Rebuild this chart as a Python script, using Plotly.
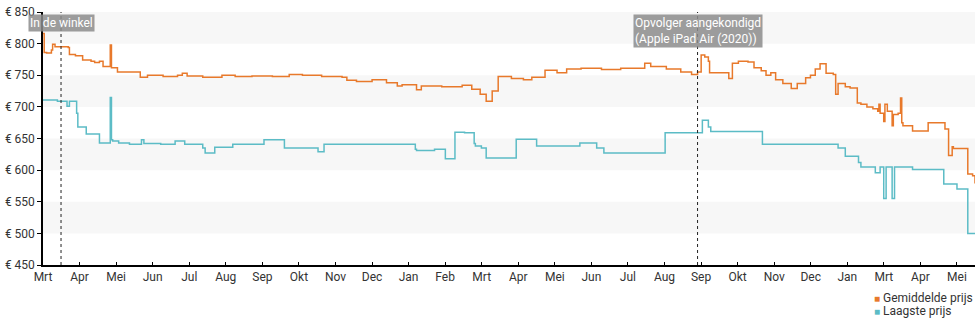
import pandas as pd
import plotly.graph_objects as go

START = pd.Timestamp("2019-03-01")

# Gemiddelde prijs: dagen sinds 1 maart 2019 en prijs in euro
gem_dag = [0, 1, 3, 7, 8, 10, 21, 22, 27, 33, 40, 43, 47, 50, 56, 57, 62, 81, 87,
           100, 112, 116, 120, 133, 149, 160, 174, 191, 205, 216, 232, 249, 253,
           261, 274, 286, 295, 299, 311, 315, 332, 349, 357, 364, 369, 374, 379,
           390, 400, 407, 418, 428, 436, 448, 465, 481, 501, 506, 519, 531, 540,
           545, 548, 551, 554, 555, 569, 571, 574, 579, 587, 592, 598, 602, 606,
           610, 616, 623, 628, 635, 639, 643, 647, 652, 658, 660, 662, 668, 672,
           678, 681, 686, 691, 695, 696, 697, 700, 701, 703, 706, 707, 708, 712,
           714, 715, 716, 724, 737, 751, 754, 757, 758, 770, 774, 776]
gem_prijs = [816, 786, 785, 790, 799, 795, 794, 783, 781, 774, 772, 770, 772, 764,
             798, 762, 755, 747, 750, 748, 750, 753, 749, 747, 750, 748, 749, 748,
             751, 750, 748, 747, 742, 740, 743, 738, 733, 735, 727, 733, 732, 734,
             728, 720, 709, 725, 748, 745, 743, 747, 758, 754, 760, 761, 759, 761,
             769, 764, 760, 755, 751, 755, 782, 779, 772, 754, 754, 745, 769, 772,
             771, 762, 757, 750, 754, 743, 737, 729, 737, 746, 750, 760, 768, 753,
             751, 720, 737, 732, 730, 706, 704, 700, 697, 693, 704, 690, 677, 704,
             693, 693, 670, 688, 690, 714, 675, 670, 662, 675, 665, 623, 637, 634,
             594, 591, 579]

# Laagste prijs
laag_dag = [0, 12, 20, 22, 28, 29, 36, 47, 56, 57, 58, 63, 72, 82, 84, 98, 110,
            118, 133, 135, 143, 158, 184, 201, 229, 234, 299, 310, 311, 326, 335,
            343, 351, 359, 360, 365, 369, 394, 411, 447, 461, 467, 518, 549, 554,
            556, 599, 662, 668, 679, 681, 693, 697, 700, 702, 707, 709, 724, 750,
            761, 770, 776]
laag_prijs = [711, 709, 701, 709, 690, 668, 657, 643, 715, 648, 646, 643, 641, 648,
              642, 641, 646, 641, 635, 627, 636, 641, 648, 635, 629, 641, 641, 633,
              631, 633, 618, 660, 659, 642, 638, 635, 619, 649, 638, 643, 635, 627,
              659, 679, 668, 661, 641, 635, 622, 612, 605, 596, 605, 555, 605, 555,
              605, 601, 578, 570, 500, 500]

maand_labels = ["Mrt", "Apr", "Mei", "Jun", "Jul", "Aug", "Sep", "Okt", "Nov", "Dec",
                "Jan", "Feb", "Mrt", "Apr", "Mei", "Jun", "Jul", "Aug", "Sep", "Okt",
                "Nov", "Dec", "Jan", "Mrt", "Apr", "Mei"]
prijs_ticks = [450, 500, 550, 600, 650, 700, 750, 800, 850]

gebeurtenissen = [
    (15, "In de winkel"),
    (545, "Opvolger aangekondigd<br>(Apple iPad Air (2020))"),
]

ORANJE = "#e8792b"
TEAL = "#5cbcc6"
TEKST = "#333333"


def naar_datum(dagen):
    return [START + pd.Timedelta(days=d) for d in dagen]


fig = go.Figure()
fig.add_trace(go.Scatter(x=naar_datum(laag_dag), y=laag_prijs, mode="lines",
                         line=dict(color=TEAL, width=1.5, shape="hv"),
                         name="Laagste prijs", showlegend=False))
fig.add_trace(go.Scatter(x=naar_datum(gem_dag), y=gem_prijs, mode="lines",
                         line=dict(color=ORANJE, width=1.5, shape="hv"),
                         name="Gemiddelde prijs", showlegend=False))

# afwisselende achtergrondbanden
for laag in prijs_ticks[1::2]:
    fig.add_shape(type="rect", xref="paper", x0=0, x1=1, yref="y",
                  y0=laag, y1=laag + 50, fillcolor="#f7f7f7",
                  line=dict(width=0), layer="below")

# gebeurtenissen: stippellijn met label
for dag, tekst in gebeurtenissen:
    datum = START + pd.Timedelta(days=dag)
    fig.add_shape(type="line", xref="x", x0=datum, x1=datum, yref="paper",
                  y0=0, y1=1, line=dict(color="#222222", width=1, dash="dot"))
    fig.add_annotation(x=datum, xref="x", y=0.992, yref="paper", text=tekst,
                       showarrow=False, xanchor="center", yanchor="top",
                       align="left", font=dict(color="white", size=12),
                       bgcolor="rgba(140,140,140,0.85)", borderpad=1)

# legenda
legenda = [("Gemiddelde prijs", ORANJE, -0.129), ("Laagste prijs", TEAL, -0.180)]
for naam, kleur, ypos in legenda:
    fig.add_annotation(
        x=0.889, xref="paper", y=ypos, yref="paper", xanchor="left",
        yanchor="middle", showarrow=False,
        text=f"<span style='color:{kleur};font-size:10px'>■</span> {naam}",
        font=dict(size=12, color=TEKST))

tickvals = [START + pd.Timedelta(days=30.44 * i) for i in range(len(maand_labels))]

fig.update_xaxes(type="date", range=[START, START + pd.Timedelta(days=776)],
                 tickvals=tickvals, ticktext=maand_labels, showgrid=False,
                 showline=True, linecolor="black", linewidth=1.5,
                 ticks="inside", ticklen=3, tickcolor="black",
                 tickfont=dict(size=12, color=TEKST), zeroline=False)
fig.update_yaxes(range=[450, 850], tickvals=prijs_ticks,
                 ticktext=[f"€ {v}" for v in prijs_ticks], showgrid=False,
                 showline=True, linecolor="black", linewidth=1.5,
                 ticks="outside", ticklen=4, tickcolor="black",
                 tickfont=dict(size=12, color=TEKST), zeroline=False)

fig.update_layout(width=980, height=325,
                  margin=dict(l=40, r=5, t=10, b=60),
                  paper_bgcolor="white", plot_bgcolor="white",
                  font=dict(family="Roboto", size=12, color=TEKST),
                  showlegend=False)

fig.write_html("out.html")
